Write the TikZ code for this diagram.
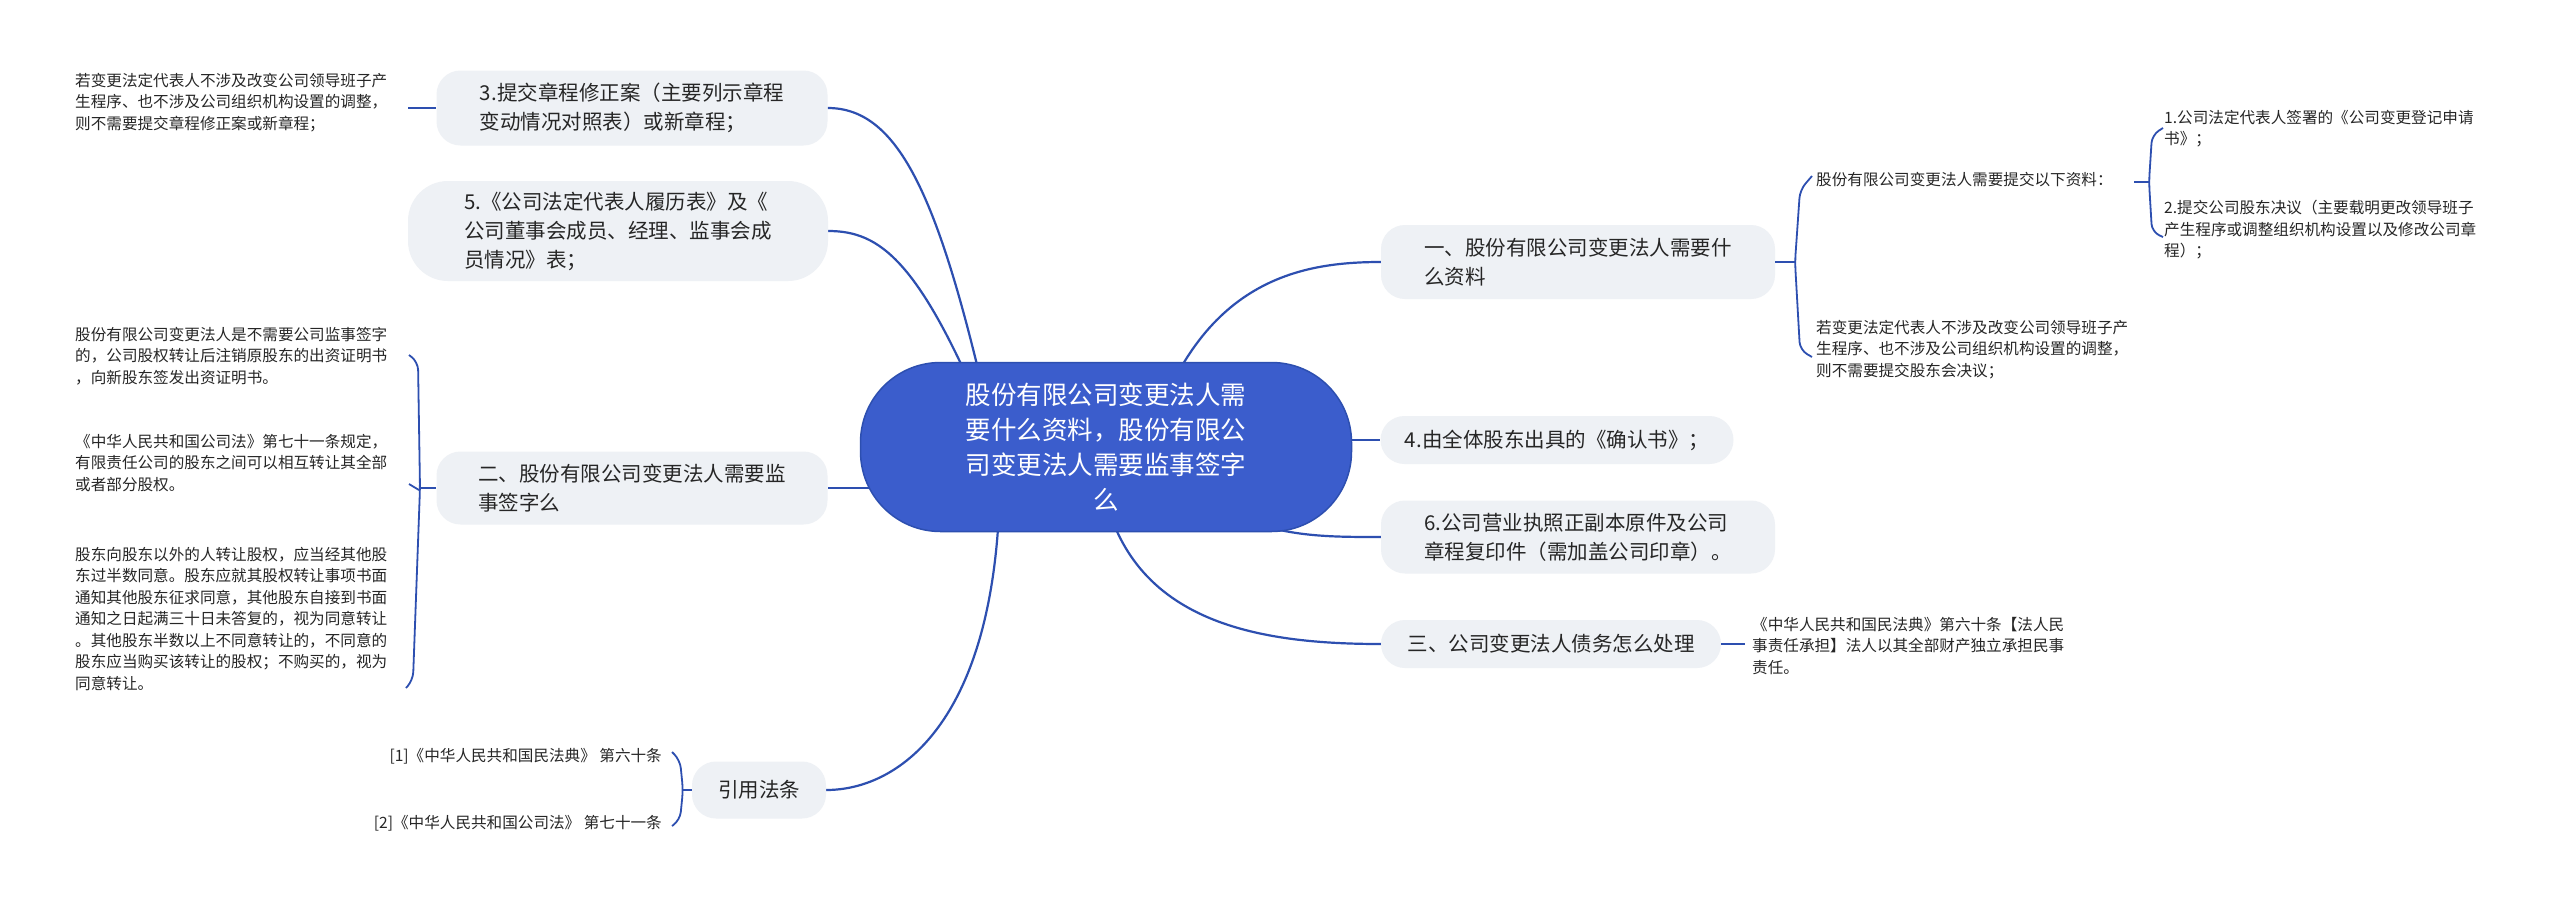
\documentclass[tikz,border=0pt]{standalone}
\usepackage{fontspec}
\usetikzlibrary{backgrounds}
\setmainfont{Noto Sans CJK SC}
\begin{document}
\begin{tikzpicture}[x=1pt,y=-1pt,
  edge/.style={draw=edgeblue,line width=2.2pt},
  br/.style={draw=edgeblue,line width=1.8pt,rounded corners=8pt},
  topic/.style={fill=nodegray,rounded corners=24pt,inner sep=0pt,align=left,font=\fontsize{20.5}{29}\selectfont,text=black!85},
  leaf/.style={align=left,anchor=north west,inner sep=0pt,font=\fontsize{15.6}{21.5}\selectfont,text=black!85}]
\definecolor{edgeblue}{HTML}{2D4FB0}
\definecolor{nodegray}{HTML}{EEF1F5}
\definecolor{mainblue}{HTML}{3B5DCC}
\useasboundingbox (0,0) rectangle (2560,911);
% center
\node[fill=mainblue,draw=edgeblue,line width=1.5pt,rounded corners=80pt,minimum width=491pt,minimum height=169pt,text=white,align=center,font=\fontsize{25.5}{35}\selectfont] (c) at (1106,447) {股份有限公司变更法人需\\要什么资料，股份有限公\\司变更法人需要监事签字\\么};
% left topics
\node[topic,minimum width=391pt,minimum height=75pt] (n3) at (632,108) {3.提交章程修正案（主要列示章程\\变动情况对照表）或新章程；};
\node[topic,minimum width=420pt,minimum height=100pt,rounded corners=40pt] (n5) at (618,231) {5.《公司法定代表人履历表》及《\\公司董事会成员、经理、监事会成\\员情况》表；};
\node[topic,minimum width=391pt,minimum height=73pt] (n2) at (632,488) {二、股份有限公司变更法人需要监\\事签字么};
\node[topic,minimum width=134pt,minimum height=57pt] (ny) at (759,790) {引用法条};
% right topics
\node[topic,minimum width=394pt,minimum height=74pt] (n1) at (1578,262) {一、股份有限公司变更法人需要什\\么资料};
\node[topic,minimum width=353pt,minimum height=48pt] (n4) at (1557,440) {4.由全体股东出具的《确认书》；};
\node[topic,minimum width=394pt,minimum height=73pt] (n6) at (1578,537) {6.公司营业执照正副本原件及公司\\章程复印件（需加盖公司印章）。};
\node[topic,minimum width=340pt,minimum height=48pt] (n3r) at (1551,644) {三、公司变更法人债务怎么处理};
% center connectors
\begin{scope}[on background layer]
\fill[white] (0,0) rectangle (2560,911);
\draw[edge] (990,420) .. controls (940,200) and (900,108) .. (n3.east);
\draw[edge] (990,430) .. controls (920,260) and (880,231) .. (n5.east);
\draw[edge] (c.center |- n2) -- (n2.east);
\draw[edge] (1000,470) .. controls (1000,720) and (900,790) .. (ny.east);
\draw[edge] (1150,440) .. controls (1200,280) and (1300,262) .. (n1.west);
\draw[edge] (c.center |- n4) -- (n4.west);
\draw[edge] (1150,460) .. controls (1240,537) and (1300,537) .. (n6.west);
\draw[edge] (1100,470) .. controls (1120,620) and (1250,644) .. (n3r.west);
\end{scope}
% leaves of 3
\node[leaf] (l3) at (75,73) {若变更法定代表人不涉及改变公司领导班子产\\生程序、也不涉及公司组织机构设置的调整，\\则不需要提交章程修正案或新章程；};
\draw[edge] (408,108) -- (n3.west);
% leaves of 二
\node[leaf] (a1) at (75,327) {股份有限公司变更法人是不需要公司监事签字\\的，公司股权转让后注销原股东的出资证明书\\，向新股东签发出资证明书。};
\node[leaf] (a2) at (75,434) {《中华人民共和国公司法》第七十一条规定，\\有限责任公司的股东之间可以相互转让其全部\\或者部分股权。};
\node[leaf] (a3) at (75,547) {股东向股东以外的人转让股权，应当经其他股\\东过半数同意。股东应就其股权转让事项书面\\通知其他股东征求同意，其他股东自接到书面\\通知之日起满三十日未答复的，视为同意转让\\。其他股东半数以上不同意转让的，不同意的\\股东应当购买该转让的股权；不购买的，视为\\同意转让。};
\draw[br] (409,355) -- (418,362) -- (420,488) -- (413,680) -- (406,688);
\draw[br] (409,484) -- (419,490);
\draw[edge] (419,488) -- (n2.west);
% leaves of 引用
\node[leaf,anchor=east] (r1) at (662,756) {[1]《中华人民共和国民法典》 第六十条};
\node[leaf,anchor=east] (r2) at (662,823) {[2]《中华人民共和国公司法》 第七十一条};
\draw[br] (672,752) -- (680,760) -- (683,790) -- (680,820) -- (672,826);
\draw[edge] (682,790) -- (ny.west);
% leaves of 一
\draw[edge] (n1.east) -- (1795,262);
\draw[br] (1812,176) -- (1800,190) -- (1795,262) -- (1800,350) -- (1812,357);
\node[leaf] (b1) at (1816,172) {股份有限公司变更法人需要提交以下资料：};
\node[leaf] (b2) at (1816,320) {若变更法定代表人不涉及改变公司领导班子产\\生程序、也不涉及公司组织机构设置的调整，\\则不需要提交股东会决议；};
\draw[edge] (2134,182) -- (2149,182);
\draw[br] (2163,128) -- (2152,135) -- (2149,182) -- (2152,232) -- (2163,237);
\node[leaf] (s1) at (2164,110) {1.公司法定代表人签署的《公司变更登记申请\\书》；};
\node[leaf] (s2) at (2164,200) {2.提交公司股东决议（主要载明更改领导班子\\产生程序或调整组织机构设置以及修改公司章\\程）；};
% leaf of 三
\draw[edge] (n3r.east) -- (1745,644);
\node[leaf] (d1) at (1752,617) {《中华人民共和国民法典》第六十条【法人民\\事责任承担】法人以其全部财产独立承担民事\\责任。};
\end{tikzpicture}
\end{document}
